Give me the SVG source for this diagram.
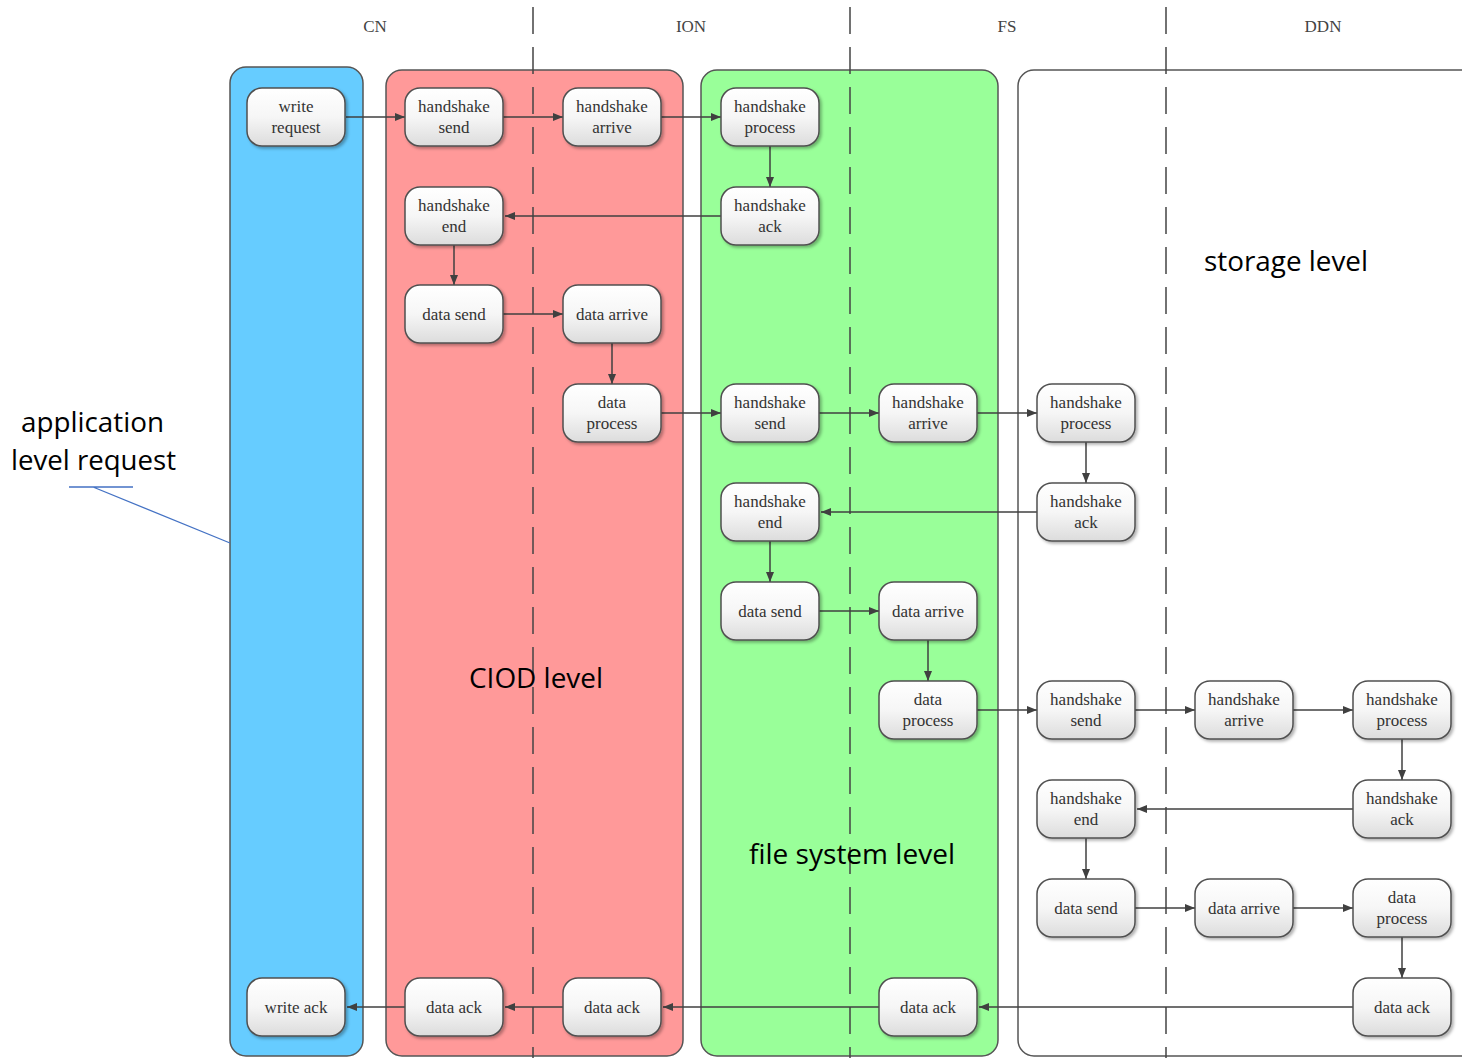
<svg xmlns="http://www.w3.org/2000/svg" width="1462" height="1058" viewBox="0 0 1462 1058">
<style>
.lane{stroke:#555;stroke-width:1.5}
.sep{stroke:#444;stroke-width:1.5;stroke-dasharray:27 13;fill:none}
.hdr{font-family:"Liberation Serif",serif;font-size:17px;fill:#444;text-anchor:middle}
.nb{fill:url(#ng);stroke:#505050;stroke-width:1.5;filter:url(#sh)}
.nt{font-family:"Liberation Serif",serif;font-size:17px;fill:#333;text-anchor:middle}
.big{font-family:"Open Sans","Liberation Sans",sans-serif;font-size:27px;fill:#000}
.c{stroke:#404040;stroke-width:1.5;fill:none;marker-end:url(#ah)}
</style>
<defs>
<linearGradient id="ng" x1="0" y1="0" x2="0" y2="1">
<stop offset="0" stop-color="#ffffff"/>
<stop offset="0.5" stop-color="#f6f6f6"/>
<stop offset="1" stop-color="#dcdcdc"/>
</linearGradient>
<filter id="sh" x="-20%" y="-20%" width="140%" height="140%">
<feDropShadow dx="2" dy="2" stdDeviation="1.5" flood-color="#000" flood-opacity="0.3"/>
</filter>
<marker id="ah" markerWidth="10" markerHeight="8" refX="10" refY="4" orient="auto" markerUnits="userSpaceOnUse">
<path d="M0,0 L10,4 L0,8 Z" fill="#404040"/>
</marker>
</defs>
<rect width="1462" height="1058" fill="#fff"/>
<g id="lanes">
<rect class="lane" x="230" y="67" width="133" height="989" rx="16" fill="#66CCFF"/>
<rect class="lane" x="386" y="70" width="297" height="986" rx="16" fill="#FF9999"/>
<rect class="lane" x="701" y="70" width="297" height="986" rx="16" fill="#99FF99"/>
<rect class="lane" x="1018" y="70" width="460" height="986" rx="16" fill="#fff"/>
</g>
<g id="separators">
<line class="sep" x1="533" y1="7" x2="533" y2="1058"/>
<line class="sep" x1="850" y1="7" x2="850" y2="1058"/>
<line class="sep" x1="1166" y1="7" x2="1166" y2="1058"/>
</g>
<g id="headers">
<text class="hdr" x="375" y="32">CN</text>
<text class="hdr" x="691" y="32">ION</text>
<text class="hdr" x="1007" y="32">FS</text>
<text class="hdr" x="1323" y="32">DDN</text>
</g>
<g id="level-labels">
<text class="big" x="1204" y="271" textLength="164" lengthAdjust="spacingAndGlyphs">storage level</text>
<text class="big" x="469" y="688" textLength="134" lengthAdjust="spacingAndGlyphs">CIOD level</text>
<text class="big" x="749" y="864" textLength="206" lengthAdjust="spacingAndGlyphs">file system level</text>
<text class="big" x="21" y="432" textLength="143" lengthAdjust="spacingAndGlyphs">application</text>
<text class="big" x="11" y="470" textLength="165" lengthAdjust="spacingAndGlyphs">level request</text>
<path d="M69,487 H133 M93,487 L230,543" stroke="#4472C4" stroke-width="1.3" fill="none"/>
</g>
<g id="connectors">
<line class="c" x1="346" y1="117" x2="405" y2="117"/>
<line class="c" x1="503" y1="117" x2="563" y2="117"/>
<line class="c" x1="661" y1="117" x2="721" y2="117"/>
<line class="c" x1="770" y1="146" x2="770" y2="187"/>
<line class="c" x1="721" y1="216" x2="505" y2="216"/>
<line class="c" x1="454" y1="245" x2="454" y2="285"/>
<line class="c" x1="503" y1="314" x2="563" y2="314"/>
<line class="c" x1="612" y1="343" x2="612" y2="384"/>
<line class="c" x1="661" y1="413" x2="721" y2="413"/>
<line class="c" x1="819" y1="413" x2="879" y2="413"/>
<line class="c" x1="977" y1="413" x2="1037" y2="413"/>
<line class="c" x1="1086" y1="442" x2="1086" y2="483"/>
<line class="c" x1="1037" y1="512" x2="821" y2="512"/>
<line class="c" x1="770" y1="541" x2="770" y2="582"/>
<line class="c" x1="819" y1="611" x2="879" y2="611"/>
<line class="c" x1="928" y1="640" x2="928" y2="681"/>
<line class="c" x1="977" y1="710" x2="1037" y2="710"/>
<line class="c" x1="1135" y1="710" x2="1195" y2="710"/>
<line class="c" x1="1293" y1="710" x2="1353" y2="710"/>
<line class="c" x1="1402" y1="739" x2="1402" y2="780"/>
<line class="c" x1="1353" y1="809" x2="1137" y2="809"/>
<line class="c" x1="1086" y1="838" x2="1086" y2="879"/>
<line class="c" x1="1135" y1="908" x2="1195" y2="908"/>
<line class="c" x1="1293" y1="908" x2="1353" y2="908"/>
<line class="c" x1="1402" y1="937" x2="1402" y2="978"/>
<line class="c" x1="1353" y1="1007" x2="979" y2="1007"/>
<line class="c" x1="879" y1="1007" x2="663" y2="1007"/>
<line class="c" x1="563" y1="1007" x2="505" y2="1007"/>
<line class="c" x1="405" y1="1007" x2="347" y2="1007"/>
</g>
<g id="n-write-request"><rect class="nb" x="247" y="88" width="98" height="58" rx="15"/><text class="nt" x="296" y="112">write</text><text class="nt" x="296" y="133">request</text></g>
<g id="n-cn-hs-send"><rect class="nb" x="405" y="88" width="98" height="58" rx="15"/><text class="nt" x="454" y="112">handshake</text><text class="nt" x="454" y="133">send</text></g>
<g id="n-ion-hs-arrive"><rect class="nb" x="563" y="88" width="98" height="58" rx="15"/><text class="nt" x="612" y="112">handshake</text><text class="nt" x="612" y="133">arrive</text></g>
<g id="n-ion-hs-process"><rect class="nb" x="721" y="88" width="98" height="58" rx="15"/><text class="nt" x="770" y="112">handshake</text><text class="nt" x="770" y="133">process</text></g>
<g id="n-ion-hs-ack"><rect class="nb" x="721" y="187" width="98" height="58" rx="15"/><text class="nt" x="770" y="211">handshake</text><text class="nt" x="770" y="232">ack</text></g>
<g id="n-cn-hs-end"><rect class="nb" x="405" y="187" width="98" height="58" rx="15"/><text class="nt" x="454" y="211">handshake</text><text class="nt" x="454" y="232">end</text></g>
<g id="n-cn-data-send"><rect class="nb" x="405" y="285" width="98" height="58" rx="15"/><text class="nt" x="454" y="320">data send</text></g>
<g id="n-ion-data-arrive"><rect class="nb" x="563" y="285" width="98" height="58" rx="15"/><text class="nt" x="612" y="320">data arrive</text></g>
<g id="n-ion-data-process"><rect class="nb" x="563" y="384" width="98" height="58" rx="15"/><text class="nt" x="612" y="408">data</text><text class="nt" x="612" y="429">process</text></g>
<g id="n-ion-hs-send"><rect class="nb" x="721" y="384" width="98" height="58" rx="15"/><text class="nt" x="770" y="408">handshake</text><text class="nt" x="770" y="429">send</text></g>
<g id="n-fs-hs-arrive"><rect class="nb" x="879" y="384" width="98" height="58" rx="15"/><text class="nt" x="928" y="408">handshake</text><text class="nt" x="928" y="429">arrive</text></g>
<g id="n-fs-hs-process"><rect class="nb" x="1037" y="384" width="98" height="58" rx="15"/><text class="nt" x="1086" y="408">handshake</text><text class="nt" x="1086" y="429">process</text></g>
<g id="n-fs-hs-ack"><rect class="nb" x="1037" y="483" width="98" height="58" rx="15"/><text class="nt" x="1086" y="507">handshake</text><text class="nt" x="1086" y="528">ack</text></g>
<g id="n-ion-hs-end"><rect class="nb" x="721" y="483" width="98" height="58" rx="15"/><text class="nt" x="770" y="507">handshake</text><text class="nt" x="770" y="528">end</text></g>
<g id="n-ion-data-send"><rect class="nb" x="721" y="582" width="98" height="58" rx="15"/><text class="nt" x="770" y="617">data send</text></g>
<g id="n-fs-data-arrive"><rect class="nb" x="879" y="582" width="98" height="58" rx="15"/><text class="nt" x="928" y="617">data arrive</text></g>
<g id="n-fs-data-process"><rect class="nb" x="879" y="681" width="98" height="58" rx="15"/><text class="nt" x="928" y="705">data</text><text class="nt" x="928" y="726">process</text></g>
<g id="n-fs-hs-send"><rect class="nb" x="1037" y="681" width="98" height="58" rx="15"/><text class="nt" x="1086" y="705">handshake</text><text class="nt" x="1086" y="726">send</text></g>
<g id="n-ddn-hs-arrive"><rect class="nb" x="1195" y="681" width="98" height="58" rx="15"/><text class="nt" x="1244" y="705">handshake</text><text class="nt" x="1244" y="726">arrive</text></g>
<g id="n-ddn-hs-process"><rect class="nb" x="1353" y="681" width="98" height="58" rx="15"/><text class="nt" x="1402" y="705">handshake</text><text class="nt" x="1402" y="726">process</text></g>
<g id="n-ddn-hs-ack"><rect class="nb" x="1353" y="780" width="98" height="58" rx="15"/><text class="nt" x="1402" y="804">handshake</text><text class="nt" x="1402" y="825">ack</text></g>
<g id="n-fs-hs-end"><rect class="nb" x="1037" y="780" width="98" height="58" rx="15"/><text class="nt" x="1086" y="804">handshake</text><text class="nt" x="1086" y="825">end</text></g>
<g id="n-fs-data-send"><rect class="nb" x="1037" y="879" width="98" height="58" rx="15"/><text class="nt" x="1086" y="914">data send</text></g>
<g id="n-ddn-data-arrive"><rect class="nb" x="1195" y="879" width="98" height="58" rx="15"/><text class="nt" x="1244" y="914">data arrive</text></g>
<g id="n-ddn-data-process"><rect class="nb" x="1353" y="879" width="98" height="58" rx="15"/><text class="nt" x="1402" y="903">data</text><text class="nt" x="1402" y="924">process</text></g>
<g id="n-ddn-data-ack"><rect class="nb" x="1353" y="978" width="98" height="58" rx="15"/><text class="nt" x="1402" y="1013">data ack</text></g>
<g id="n-fs-data-ack"><rect class="nb" x="879" y="978" width="98" height="58" rx="15"/><text class="nt" x="928" y="1013">data ack</text></g>
<g id="n-ion-data-ack"><rect class="nb" x="563" y="978" width="98" height="58" rx="15"/><text class="nt" x="612" y="1013">data ack</text></g>
<g id="n-cn-data-ack"><rect class="nb" x="405" y="978" width="98" height="58" rx="15"/><text class="nt" x="454" y="1013">data ack</text></g>
<g id="n-write-ack"><rect class="nb" x="247" y="978" width="98" height="58" rx="15"/><text class="nt" x="296" y="1013">write ack</text></g>
</svg>
